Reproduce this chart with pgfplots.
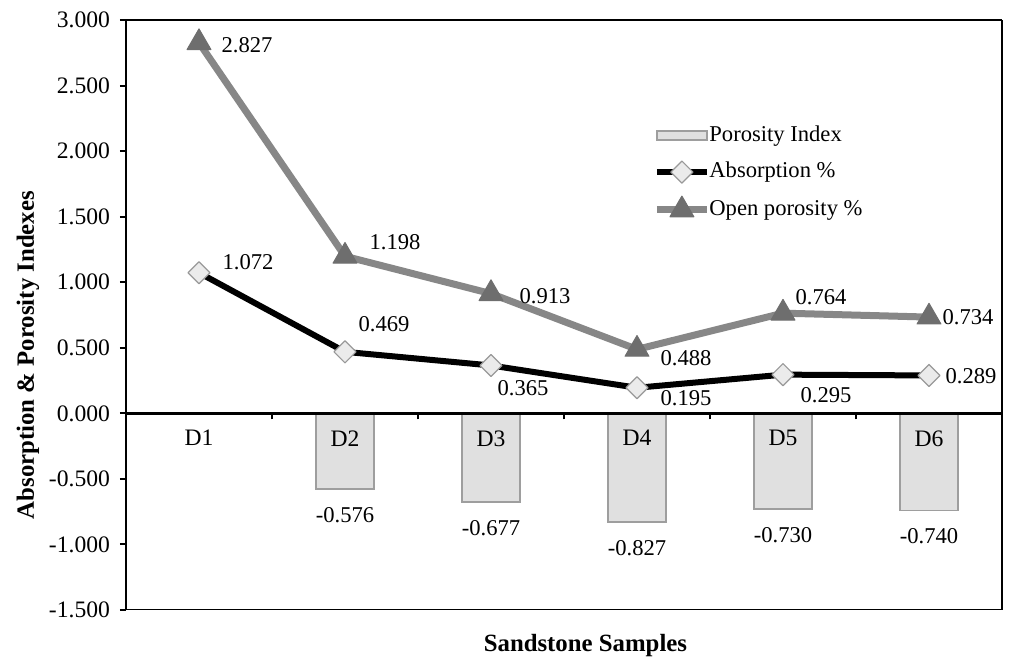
\documentclass[border=0pt]{standalone}
\usepackage{fontspec}
\setmainfont{Liberation Serif}
\usepackage{pgfplots}
\usepackage{pgfplotstable}
\pgfplotsset{compat=1.18}
\newcommand\lab{\fontsize{11.3}{13}\selectfont}
\newcommand\tlab{\fontsize{11.8}{13}\selectfont}
\newcommand\axlab{\bfseries\fontsize{12.4}{14}\selectfont}

\pgfplotstableread{
x y dx dy
0 2.827 24 -1
1 1.198 25 7
2 0.913 27 -1.3
3 0.488 24.5 -4.5
4 0.764 19 8
5 0.734 19.5 0
}\openpor

\pgfplotstableread{
x y dx dy
0 1.072 24.5 5.3
1 0.469 19.5 13.8
2 0.365 16 -11.5
3 0.195 24.5 -5.3
4 0.295 21.5 -10.3
5 0.289 21 -0.5
}\absorp

\pgfplotstableread{
x y
1 -0.576
2 -0.677
3 -0.827
4 -0.730
5 -0.740
}\porindex

\pgfplotsset{
  barlegend/.style={legend image code/.code={\draw[##1] (0pt,-2.2pt) rectangle (25pt,2.2pt);}},
  linelegend/.style={legend image code/.code={\draw[mark repeat=2, mark phase=2, ##1] plot coordinates {(0pt,0pt) (12.5pt,0pt) (25pt,0pt)};}},
}

\begin{document}
\begin{tikzpicture}
\begin{axis}[
  at={(0pt,0pt)}, anchor=south west,
  scale only axis, width=438pt, height=295pt,
  xmin=-0.5, xmax=5.5, ymin=-1.5, ymax=3,
  axis x line=middle, x axis line style={-},
  axis y line=box, ytick pos=left,
  hide obscured x ticks=false,
  axis line style={line width=1.3pt},
  axis on top,
  tick align=outside, major tick length=3pt,
  tick style={black, line width=1pt},
  xtick={0.5,1.5,2.5,3.5,4.5}, xticklabels={},
  extra x ticks={0,1,2,3,4,5},
  extra x tick labels={D1,D2,D3,D4,D5,D6},
  extra x tick style={major tick length=0pt},
  xticklabel style={font=\tlab, yshift=-5pt},
  ytick={-1.5,-1,-0.5,0,0.5,1,1.5,2,2.5,3},
  yticklabel style={font=\tlab, xshift=-1.5pt},
  /pgf/number format/.cd, fixed, fixed zerofill, precision=3, assume math mode=true,
  /pgfplots/.cd,
  every axis x label/.style={at={(axis description cs:0.5245,-0.0712)}, anchor=base, font=\axlab},
  every axis y label/.style={at={(axis description cs:-0.1119,0.432)}, rotate=90, anchor=center, font=\axlab},
  xlabel={Sandstone Samples},
  ylabel={Absorption \& Porosity Indexes},
  legend style={at={(axis description cs:0.6016,0.826)}, anchor=north west, draw=none, fill=none,
    font=\lab, inner sep=0pt, row sep=5.75pt,
    /tikz/every odd column/.append style={column sep=-1.5pt},
    nodes={inner sep=1pt, text height=8pt, text depth=2.5pt}},
  legend cell align=left,
]
\addplot[ybar, bar width=29pt, draw=black!38, line width=0.8pt,
  fill=black!12,
  point meta=y, nodes near coords,
  every node near coord/.append style={anchor=center, yshift=-13pt, font=\lab, text=black},
  barlegend,
] table[x=x, y=y] {\porindex};
\addlegendentry{Porosity Index}

\addplot[black, line width=3pt, line join=round,
  mark=square*, mark size=3.9pt,
  mark options={rotate=45, fill=black!8, draw=black!40, line width=0.6pt},
  point meta=y, nodes near coords,
  visualization depends on={\thisrow{dx} \as \labdx},
  visualization depends on={\thisrow{dy} \as \labdy},
  every node near coord/.append style={anchor=center, xshift=\labdx pt, yshift=\labdy pt, font=\lab, text=black},
  linelegend,
] table[x=x, y=y] {\absorp};
\addlegendentry{Absorption \%}

\addplot[black!47, line width=3.5pt, line join=round,
  mark=triangle*, mark size=6.9pt,
  mark options={fill=black!57, draw=black!57, line width=0.5pt},
  point meta=y, nodes near coords,
  visualization depends on={\thisrow{dx} \as \labdx},
  visualization depends on={\thisrow{dy} \as \labdy},
  every node near coord/.append style={anchor=center, xshift=\labdx pt, yshift=\labdy pt, font=\lab, text=black},
  linelegend,
] table[x=x, y=y] {\openpor};
\addlegendentry{Open porosity \%}

\draw[line width=1.3pt] (rel axis cs:0,0) rectangle (rel axis cs:1,1);
\end{axis}
\pgfresetboundingbox
\path (-63pt,-29pt) rectangle (449pt,305pt);
\end{tikzpicture}
\end{document}
